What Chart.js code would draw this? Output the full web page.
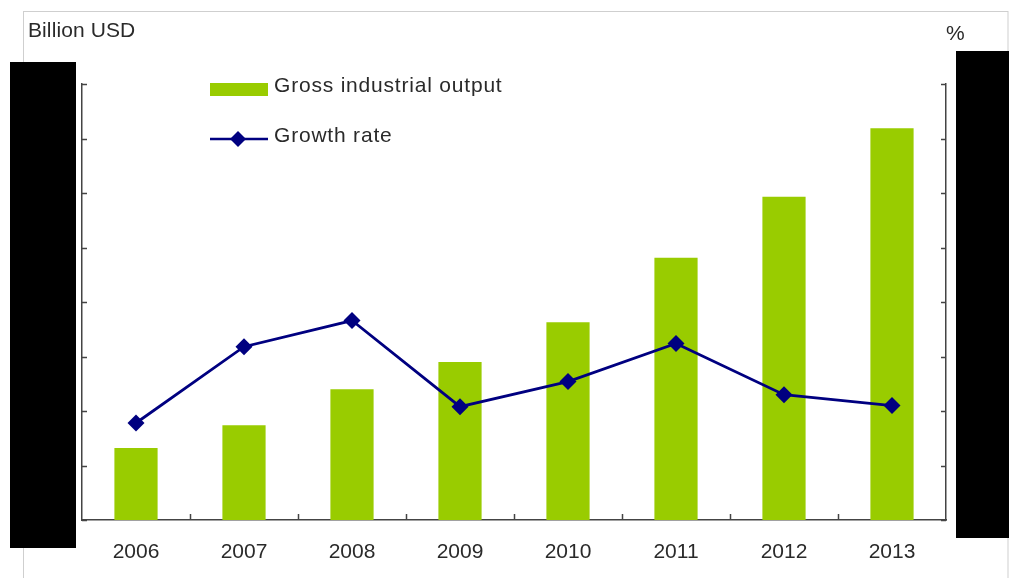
<!DOCTYPE html>
<html><head><meta charset="utf-8">
<script src="https://cdn.jsdelivr.net/npm/chart.js@4"></script>
<style>html,body{margin:0;padding:0;background:#fff;overflow:hidden}</style>
</head><body>
<canvas id="c" width="1009" height="578"></canvas>
<script>
const years = ['2006','2007','2008','2009','2010','2011','2012','2013'];
const outputValues = [13.2, 17.4, 24.0, 29.0, 36.3, 48.1, 59.3, 71.9];
const growthValues = [8.9, 15.9, 18.3, 10.4, 12.7, 16.2, 11.5, 10.5];
const leftAxisTitle = 'Billion USD';
const rightAxisTitle = '%';
const outputLabel = 'Gross industrial output';
const growthLabel = 'Growth rate';

const FONT = '"Liberation Sans", Arial, sans-serif';
const TEXT = '#2a2a2a';

const decor = {
  id: 'decor',
  beforeDraw(chart) {
    const ctx = chart.ctx;
    ctx.save();
    ctx.fillStyle = '#fff';
    ctx.fillRect(0, 0, chart.width, chart.height);
    ctx.strokeStyle = '#cfcfcf';
    ctx.lineWidth = 1;
    ctx.strokeRect(23.5, 11.5, 984.5, 620);
    ctx.restore();
  },
  afterDraw(chart) {
    const ctx = chart.ctx;
    const a = chart.chartArea;
    const y = chart.scales.y, y1 = chart.scales.y1, x = chart.scales.x;
    ctx.save();
    ctx.strokeStyle = '#444';
    ctx.lineWidth = 1.5;
    ctx.beginPath();
    y.ticks.forEach(t => { const p = Math.round(y.getPixelForValue(t.value)) + 0.5; ctx.moveTo(a.left, p); ctx.lineTo(a.left + 5, p); });
    y1.ticks.forEach(t => { const p = Math.round(y1.getPixelForValue(t.value)) + 0.5; ctx.moveTo(a.right - 5, p); ctx.lineTo(a.right, p); });
    for (let i = 0; i < years.length - 1; i++) {
      const p = Math.round((x.getPixelForValue(i) + x.getPixelForValue(i + 1)) / 2) + 0.5;
      ctx.moveTo(p, a.bottom); ctx.lineTo(p, a.bottom - 6);
    }
    ctx.stroke();

    // axis titles
    ctx.fillStyle = TEXT;
    ctx.font = '21px ' + FONT;
    ctx.letterSpacing = '0.1px';
    ctx.textBaseline = 'middle';
    ctx.textAlign = 'left';
    ctx.fillText(leftAxisTitle, 28, 31);
    ctx.fillText(rightAxisTitle, 946, 34);

    // legend
    const bar = chart.data.datasets[1], line = chart.data.datasets[0];
    ctx.fillStyle = bar.backgroundColor;
    ctx.fillRect(210, 83, 58, 13);
    ctx.fillStyle = TEXT;
    ctx.letterSpacing = '0.8px';
    ctx.fillText(bar.label, 274, 86);
    ctx.strokeStyle = line.borderColor;
    ctx.lineWidth = 2.5;
    ctx.beginPath(); ctx.moveTo(210, 139); ctx.lineTo(268, 139); ctx.stroke();
    ctx.fillStyle = line.pointBackgroundColor;
    ctx.beginPath(); ctx.moveTo(238, 131); ctx.lineTo(246, 139); ctx.lineTo(238, 147); ctx.lineTo(230, 139); ctx.closePath(); ctx.fill();
    ctx.fillStyle = TEXT;
    ctx.fillText(line.label, 274, 136);

    // redaction boxes
    ctx.fillStyle = '#000';
    ctx.fillRect(10, 62, 66, 486);
    ctx.fillRect(956, 51, 53, 487);
    ctx.restore();
  }
};

new Chart(document.getElementById('c'), {
  data: {
    labels: years,
    datasets: [
      { type: 'line', label: growthLabel, data: growthValues, yAxisID: 'y1',
        borderColor: '#000080', borderWidth: 2.8, tension: 0,
        pointStyle: 'rectRot', pointRadius: 8.5, pointHoverRadius: 8.5,
        pointBackgroundColor: '#000080', pointBorderColor: '#000080', pointBorderWidth: 0 },
      { type: 'bar', label: outputLabel, data: outputValues, yAxisID: 'y',
        backgroundColor: '#99cc00', barPercentage: 0.4, categoryPercentage: 1.0 }
    ]
  },
  options: {
    responsive: false, animation: false, devicePixelRatio: 1,
    layout: { padding: { left: 82, right: 63, top: 84, bottom: 0 } },
    plugins: { legend: { display: false }, tooltip: { enabled: false } },
    scales: {
      x: { grid: { display: false, drawTicks: false },
           border: { display: true, color: '#444', width: 1.5 },
           ticks: { color: TEXT, font: { family: FONT, size: 21 }, padding: 20, maxRotation: 0 },
           afterFit: s => { s.height = 58; } },
      y: { position: 'left', min: 0, max: 80, ticks: { display: false, stepSize: 10 },
           grid: { display: false, drawTicks: false },
           border: { display: true, color: '#444', width: 1.5 },
           afterFit: s => { s.width = 0; } },
      y1: { position: 'right', min: 0, max: 40, ticks: { display: false, stepSize: 5 },
           grid: { display: false, drawTicks: false },
           border: { display: true, color: '#444', width: 1.5 },
           afterFit: s => { s.width = 0; } }
    }
  },
  plugins: [decor]
});
</script>
</body></html>
